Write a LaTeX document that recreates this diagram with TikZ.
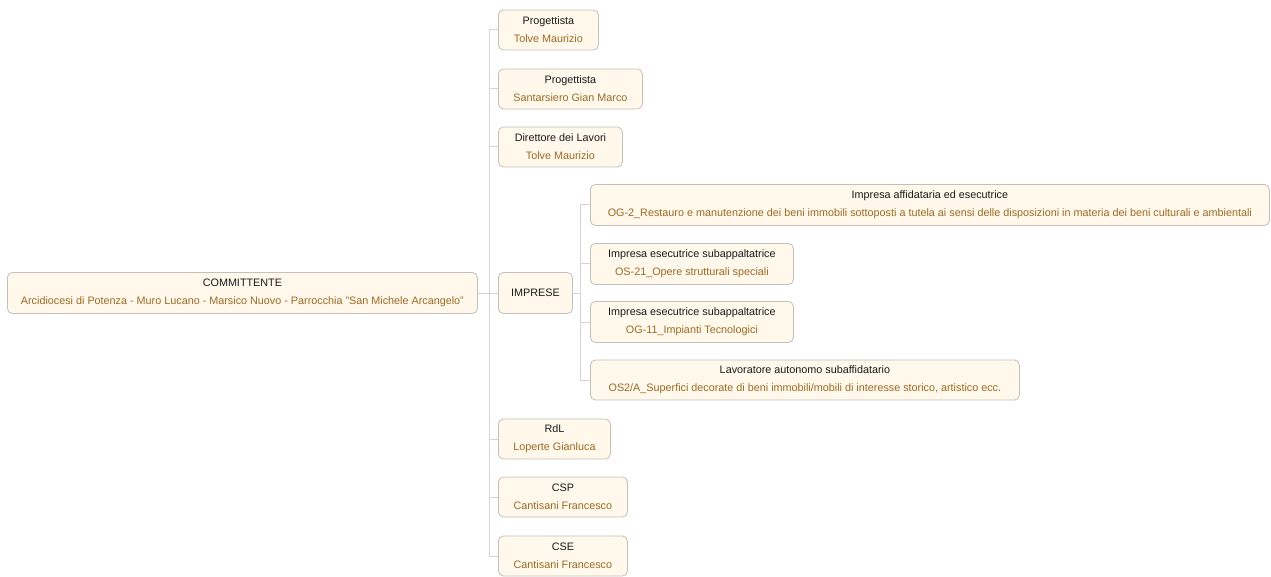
\documentclass[tikz,border=0pt]{standalone}
\usepackage{fontspec}
\setmainfont{Liberation Sans}
\definecolor{boxfill}{HTML}{FFF8EB}
\definecolor{boxdraw}{HTML}{C2C0BC}
\definecolor{linkcol}{HTML}{D4D4D4}
\definecolor{subcol}{HTML}{9A6A24}
\definecolor{titlecol}{HTML}{1A1A1A}
\tikzset{
  card/.style={draw=boxdraw, fill=boxfill, rounded corners=5pt, line width=0.8pt,
    anchor=west, inner sep=0pt, align=center, font=\fontsize{10.8}{18}\selectfont},
  link/.style={draw=linkcol, line width=1pt},
}
\newcommand{\cardtext}[2]{\textcolor{titlecol}{#1}\\\textcolor{subcol}{#2}}
\begin{document}
\begin{tikzpicture}[x=1pt,y=-1pt]
\useasboundingbox (0,0) rectangle (1271,577);
% nodes
\node[card, minimum width=470pt, minimum height=41pt] (comm) at (7,293)
  {\cardtext{COMMITTENTE}{Arcidiocesi di Potenza - Muro Lucano - Marsico Nuovo - Parrocchia "San Michele Arcangelo"}};
\node[card, minimum width=100pt, minimum height=40pt] (p1) at (498,30) {\cardtext{Progettista}{Tolve Maurizio}};
\node[card, minimum width=144pt, minimum height=40pt] (p2) at (498,89) {\cardtext{Progettista}{Santarsiero Gian Marco}};
\node[card, minimum width=124pt, minimum height=40pt] (dl) at (498,147) {\cardtext{Direttore dei Lavori}{Tolve Maurizio}};
\node[card, minimum width=74pt, minimum height=41pt] (imp) at (498,293) {\textcolor{titlecol}{IMPRESE}};
\node[card, minimum width=112pt, minimum height=40pt] (rdl) at (498,439) {\cardtext{RdL}{Loperte Gianluca}};
\node[card, minimum width=129pt, minimum height=40pt] (csp) at (498,497) {\cardtext{CSP}{Cantisani Francesco}};
\node[card, minimum width=129pt, minimum height=40pt] (cse) at (498,556) {\cardtext{CSE}{Cantisani Francesco}};
\node[card, minimum width=679pt, minimum height=41pt] (i1) at (590,205)
  {\cardtext{Impresa affidataria ed esecutrice}{OG-2\_Restauro e manutenzione dei beni immobili sottoposti a tutela ai sensi delle disposizioni in materia dei beni culturali e ambientali}};
\node[card, minimum width=203pt, minimum height=41pt] (i2) at (590,264) {\cardtext{Impresa esecutrice subappaltatrice}{OS-21\_Opere strutturali speciali}};
\node[card, minimum width=203pt, minimum height=41pt] (i3) at (590,322) {\cardtext{Impresa esecutrice subappaltatrice}{OG-11\_Impianti Tecnologici}};
\node[card, minimum width=429pt, minimum height=40pt] (i4) at (590,380)
  {\cardtext{Lavoratore autonomo subaffidatario}{OS2/A\_Superfici decorate di beni immobili/mobili di interesse storico, artistico ecc.}};
% trunk
\coordinate (t0) at (489,30);
\draw[link] (comm.east) -- (comm.east -| t0);
\draw[link] (p1.west -| t0) -- (cse.west -| t0);
\foreach \n in {p1,p2,dl,imp,rdl,csp,cse}{
  \draw[link] (\n.west -| t0) -- (\n.west);
}
\coordinate (s0) at (580,205);
\draw[link] (imp.east) -- (imp.east -| s0);
\draw[link] (i1.west -| s0) -- (i4.west -| s0);
\foreach \n in {i1,i2,i3,i4}{
  \draw[link] (\n.west -| s0) -- (\n.west);
}
\end{tikzpicture}
\end{document}
